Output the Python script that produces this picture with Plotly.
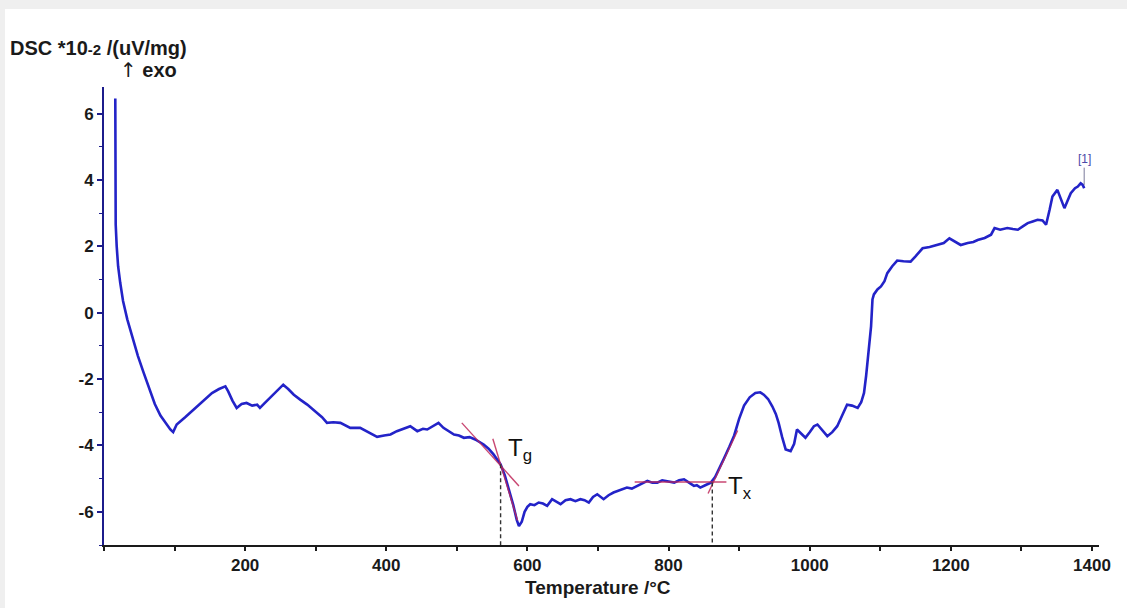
import plotly.graph_objects as go

# ---------------- data ----------------
temperature = [16, 16.6, 18, 20, 23, 27, 33, 40, 48, 56, 64, 72, 80, 88, 94, 98, 103, 115, 127, 140, 153, 163,
               172, 176, 182, 188, 195, 202, 210, 217, 221, 228, 235, 245, 254, 261, 269, 278, 288, 302,
               309, 316, 325, 335, 349, 363, 375, 387, 397, 406, 415, 425, 434, 444, 452, 458, 466, 474,
               481, 490, 496, 503, 510, 518, 526, 538, 545, 552, 557, 562, 568, 574, 580, 585, 588, 592,
               596, 600, 604, 610, 616, 622, 628, 635, 641, 647, 654, 661, 668, 675, 681, 687, 693, 699,
               708, 715, 722, 731, 741, 748, 755, 762, 770, 777, 784, 791, 798, 803, 808, 815, 822, 829,
               836, 840, 845, 852, 860, 866, 872, 878, 886, 893, 900, 907, 915, 923, 930, 935, 941, 947,
               952, 956, 961, 966, 973, 978, 982, 988, 994, 1000, 1006, 1011, 1018, 1025, 1032, 1039,
               1046, 1053, 1060, 1068, 1073, 1077, 1080, 1082, 1085, 1087, 1089, 1091, 1096, 1101, 1106,
               1110, 1117, 1124, 1133, 1143, 1150, 1160, 1170, 1181, 1190, 1198, 1206, 1214, 1224, 1232,
               1238, 1248, 1257, 1262, 1270, 1280, 1288, 1295, 1302, 1309, 1316, 1323, 1330, 1335, 1340,
               1344, 1351, 1356, 1361, 1365, 1370, 1376, 1380, 1384, 1387, 1389]
dsc = [6.45, 2.65, 2.0, 1.4, 0.9, 0.35, -0.2, -0.75, -1.3, -1.8, -2.3, -2.75, -3.1, -3.35, -3.52, -3.6,
       -3.37, -3.15,
       -2.92, -2.65, -2.42, -2.3, -2.22, -2.37, -2.65, -2.87, -2.75, -2.72, -2.8, -2.77, -2.87, -2.72,
       -2.57, -2.35, -2.17, -2.3, -2.47, -2.62, -2.77, -3.02, -3.15, -3.32, -3.3, -3.32, -3.47, -3.47,
       -3.6, -3.74, -3.7, -3.67, -3.57, -3.5, -3.42, -3.57, -3.5, -3.52, -3.42, -3.32, -3.47, -3.6,
       -3.67, -3.7, -3.77, -3.75, -3.82, -3.97, -4.1, -4.27, -4.42, -4.57, -4.9, -5.32, -5.8, -6.25,
       -6.43, -6.3, -6.0, -5.85, -5.77, -5.8, -5.72, -5.75, -5.82, -5.62, -5.7, -5.77, -5.65, -5.62,
       -5.68, -5.62, -5.65, -5.72, -5.55, -5.47, -5.62, -5.5, -5.42, -5.35, -5.27, -5.3, -5.22, -5.15,
       -5.07, -5.12, -5.12, -5.05, -5.07, -5.1, -5.12, -5.05, -5.02, -5.12, -5.22, -5.2, -5.27, -5.2,
       -5.12, -4.95, -4.7, -4.42, -4.05, -3.7, -3.2, -2.8, -2.55, -2.42, -2.4, -2.47, -2.6, -2.82,
       -3.05, -3.32, -3.75, -4.12, -4.17, -3.95, -3.52, -3.65, -3.77, -3.6, -3.42, -3.37, -3.55, -3.72,
       -3.6, -3.42, -3.1, -2.77, -2.8, -2.87, -2.7, -2.42, -1.9, -1.41, -0.9, -0.41, 0.4, 0.55, 0.7,
       0.79, 0.95, 1.19, 1.4, 1.57, 1.55, 1.54, 1.7, 1.94, 1.98, 2.04, 2.1, 2.24, 2.15, 2.04, 2.1, 2.13,
       2.19, 2.25, 2.35, 2.55, 2.5, 2.55, 2.52, 2.5, 2.6, 2.7, 2.75, 2.8, 2.78, 2.65, 3.1, 3.5, 3.7,
       3.45, 3.15, 3.35, 3.6, 3.75, 3.8, 3.9, 3.85, 3.75]

# onset constructions
tg_temp, tg_val = 562, -4.57
tx_temp, tx_val = 862, -5.12
tg_tangent1_t = [507, 588]
tg_tangent1_v = [-3.32, -5.22]
tg_tangent2_t = [551, 586]
tg_tangent2_v = [-3.80, -6.26]
tx_tangent1_t = [752, 882]
tx_tangent1_v = [-5.10, -5.10]
tx_tangent2_t = [856, 898]
tx_tangent2_v = [-5.45, -3.55]

x_tickvals = [200, 400, 600, 800, 1000, 1200, 1400]
x_ticktext = ["200", "400", "600", "800", "1000", "1200", "1400"]
y_tickvals = [-6, -4, -2, 0, 2, 4, 6]
y_ticktext = ["-6", "-4", "-2", "0", "2", "4", "6"]
x_range = [0, 1410]
y_range = [-7, 6.8]
curve_label_val = 4.62

# ---------------- style ----------------
FONT = "Liberation Sans, Arial, sans-serif"
CURVE = "#2323c8"
NAVY = "#1c1c8c"
TAN = "#c0285a"
DARK = "#1a1a1a"

fig = go.Figure()

fig.add_trace(go.Scatter(x=temperature, y=dsc, mode="lines",
                         line=dict(color=CURVE, width=2.6), hoverinfo="skip", showlegend=False))

for tt, vv in [(tg_tangent1_t, tg_tangent1_v), (tg_tangent2_t, tg_tangent2_v),
               (tx_tangent1_t, tx_tangent1_v), (tx_tangent2_t, tx_tangent2_v)]:
    fig.add_trace(go.Scatter(x=tt, y=vv, mode="lines", line=dict(color=TAN, width=1.4),
                             opacity=0.85, hoverinfo="skip", showlegend=False))

for t0, v0 in [(tg_temp, tg_val), (tx_temp, tx_val)]:
    fig.add_trace(go.Scatter(x=[t0, t0], y=[v0, y_range[0]], mode="lines",
                             line=dict(color="#333333", width=1.4, dash="4px,3px"),
                             hoverinfo="skip", showlegend=False))

# curve label connector
fig.add_trace(go.Scatter(x=[temperature[-1], temperature[-1]], y=[dsc[-1] + 0.1, curve_label_val - 0.25],
                         mode="lines", line=dict(color="#7a7a9a", width=1),
                         hoverinfo="skip", showlegend=False))

L, R, T, B = 104, 28, 87, 63
W, H = 1127, 608
pw, ph = W - L - R, H - T - B

def px(xp):
    return (xp - L) / pw

def py(yp):
    return (H - B - yp) / ph

fig.add_shape(type="rect", xref="paper", yref="paper", x0=px(5), x1=px(1135), y0=py(615), y1=py(9),
              fillcolor="white", line=dict(width=0), layer="below")

annotations = [
    dict(text="DSC *10<span style='font-size:15px'>-2</span> /(uV/mg)", x=px(8), y=py(48),
         xanchor="left", yanchor="middle", font=dict(size=20, color=DARK, family=FONT, weight="bold")),
    dict(text="<span style='font-family:DejaVu Sans;font-weight:normal'>↑</span> exo", x=px(118), y=py(70),
         xanchor="left", yanchor="middle",
         font=dict(size=20, color=DARK, family=FONT, weight="bold")),
    dict(text="Temperature /°C", x=px(598), y=py(587), xanchor="center", yanchor="middle",
         font=dict(size=19, color=DARK, family=FONT, weight="bold")),
]
for a in annotations:
    a.update(xref="paper", yref="paper", showarrow=False)

annotations += [
    dict(text="T<sub>g</sub>", x=tg_temp + 7, y=tg_val + 0.45, xref="x", yref="y", showarrow=False,
         xanchor="left", yanchor="middle", font=dict(size=24, color="#111111", family=FONT)),
    dict(text="T<sub>x</sub>", x=tx_temp + 20, y=tx_val - 0.15, xref="x", yref="y", showarrow=False,
         xanchor="left", yanchor="middle", font=dict(size=24, color="#111111", family=FONT)),
    dict(text="[1]", x=temperature[-1], y=curve_label_val, xref="x", yref="y", showarrow=False,
         xanchor="center", yanchor="middle", font=dict(size=12, color="#4a4aa8", family=FONT)),
]

fig.update_layout(
    width=W, height=H,
    margin=dict(l=L, r=R, t=T, b=B),
    paper_bgcolor="#efefef",
    plot_bgcolor="white",
    annotations=annotations,
    xaxis=dict(range=x_range, tickvals=x_tickvals, ticktext=x_ticktext, ticks="outside", ticklen=4,
               tickwidth=1.5, tickcolor=DARK, showline=True, linecolor=DARK, linewidth=2, showgrid=False,
               zeroline=False, tickfont=dict(size=17, color=DARK, family=FONT, weight="bold"),
               minor=dict(dtick=100, tick0=0, ticks="outside", ticklen=4, tickcolor=DARK, tickwidth=1.5)),
    yaxis=dict(range=y_range, tickvals=y_tickvals, ticktext=y_ticktext, ticks="outside", ticklen=5,
               tickwidth=1.5, tickcolor=NAVY, showline=True, linecolor=NAVY, linewidth=2, showgrid=False,
               zeroline=False, tickfont=dict(size=17, color=DARK, family=FONT, weight="bold"),
               minor=dict(dtick=1, tick0=0, ticks="outside", ticklen=3, tickcolor=NAVY, tickwidth=1.2)),
)

fig.write_html("out.html")
